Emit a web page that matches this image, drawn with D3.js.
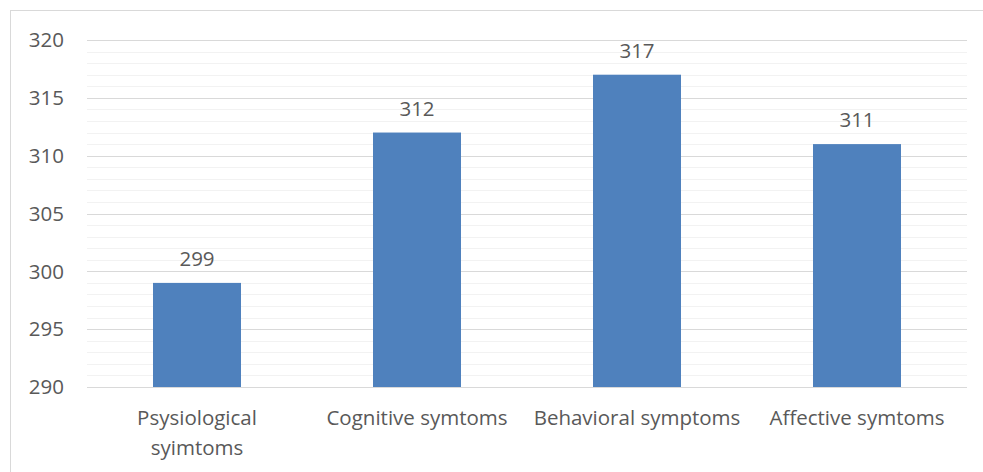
<!DOCTYPE html>
<html>
<head>
<meta charset="utf-8">
<script src="https://cdn.jsdelivr.net/npm/d3@7"></script>
<style>
  body { margin: 0; background: #fff; }
  text { font-family: "Open Sans", "Noto Sans", sans-serif; fill: #595959; }
</style>
</head>
<body>
<div id="chart"></div>
<script>
// chart data
const categories = ["Psysiological syimtoms", "Cognitive symtoms", "Behavioral symptoms", "Affective symtoms"];
const values = [299, 312, 317, 311];
const yTicks = [290, 295, 300, 305, 310, 315, 320];

const width = 983, height = 472;
const margin = { top: 40, right: 16, bottom: 85, left: 87 };
const fontSize = "20.5px";

const svg = d3.select("#chart")
  .append("svg")
  .attr("width", width)
  .attr("height", height);

// outer chart border
svg.append("rect")
  .attr("x", 10.5).attr("y", 10.5)
  .attr("width", width).attr("height", height)
  .attr("fill", "none")
  .attr("stroke", "#d9d9d9");

const x = d3.scaleBand()
  .domain(categories)
  .range([margin.left, width - margin.right])
  .paddingInner(0.6)
  .paddingOuter(0.3);

const y = d3.scaleLinear()
  .domain([290, 320])
  .range([height - margin.bottom, margin.top]);

// minor grid lines (every 1)
svg.append("g")
  .selectAll("line")
  .data(d3.range(290, 321).filter(v => v % 5 !== 0))
  .enter()
  .append("line")
  .attr("x1", margin.left).attr("x2", width - margin.right)
  .attr("y1", d => Math.round(y(d)) + 0.5)
  .attr("y2", d => Math.round(y(d)) + 0.5)
  .attr("stroke", "#f2f2f2");

// major grid lines
svg.append("g")
  .selectAll("line")
  .data(yTicks)
  .enter()
  .append("line")
  .attr("x1", margin.left).attr("x2", width - margin.right)
  .attr("y1", d => Math.round(y(d)) + 0.5)
  .attr("y2", d => Math.round(y(d)) + 0.5)
  .attr("stroke", "#d9d9d9");

// y tick labels
svg.append("g")
  .selectAll("text")
  .data(yTicks)
  .enter()
  .append("text")
  .attr("x", 64)
  .attr("y", d => y(d))
  .attr("dy", "0.35em")
  .attr("text-anchor", "end")
  .style("font-size", fontSize)
  .text(d => d);

// bars
svg.append("g")
  .selectAll("rect")
  .data(values)
  .enter()
  .append("rect")
  .attr("x", (d, i) => x(categories[i]))
  .attr("y", d => y(d))
  .attr("width", x.bandwidth())
  .attr("height", d => y(290) - y(d))
  .attr("fill", "#4f81bd");

// value labels
svg.append("g")
  .selectAll("text")
  .data(values)
  .enter()
  .append("text")
  .attr("x", (d, i) => x(categories[i]) + x.bandwidth() / 2)
  .attr("y", d => y(d) - 17)
  .attr("text-anchor", "middle")
  .style("font-size", fontSize)
  .text(d => d);

// category labels, wrapped when too wide for the slot
const maxLabel = 212;
const catLabels = svg.append("g")
  .selectAll("text")
  .data(categories)
  .enter()
  .append("text")
  .attr("x", d => x(d) + x.bandwidth() / 2)
  .attr("y", y(290) + 38)
  .attr("text-anchor", "middle")
  .style("font-size", fontSize);

catLabels.each(function(d) {
  const t = d3.select(this);
  const cx = x(d) + x.bandwidth() / 2;
  t.text(d);
  if (this.getComputedTextLength() > maxLabel) {
    t.text(null);
    d.split(" ").forEach((w, i) => {
      t.append("tspan").attr("x", cx).attr("dy", i === 0 ? 0 : 30).text(w);
    });
  }
});
</script>
</body>
</html>
